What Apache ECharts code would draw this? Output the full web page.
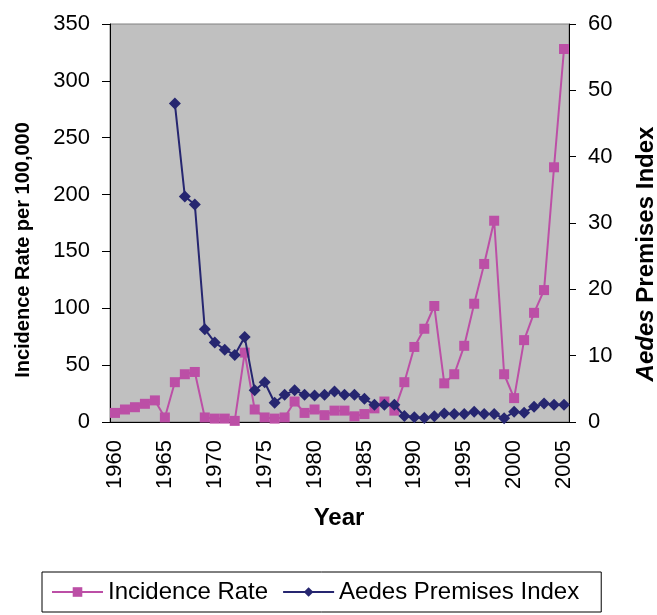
<!DOCTYPE html>
<html>
<head>
<meta charset="utf-8">
<script src="https://cdn.jsdelivr.net/npm/echarts@6/dist/echarts.min.js"></script>
<style>
  html, body { margin: 0; padding: 0; background: #ffffff; }
  #chart { width: 657px; height: 615px; }
</style>
</head>
<body>
<div id="chart"></div>
<script>
// Years on the category axis
const years = [];
for (let y = 1960; y <= 2005; y++) years.push(String(y));

// Dengue incidence rate per 100,000 population (left axis)
const incidenceRate = [
  8, 11, 13, 16, 19, 4, 35, 42, 44, 4,
  3, 3, 1, 61, 11, 4, 3, 4, 18, 8,
  11, 6, 10, 10, 5, 7, 12, 18, 10, 35,
  66, 82, 102, 34, 42, 67, 104, 139, 177, 42,
  21, 72, 96, 116, 224, 328
];

// Aedes premises index (right axis), surveyed from 1966
const premisesIndex = [
  null, null, null, null, null, null, 48, 34, 32.8, 14,
  12, 10.9, 10.1, 12.8, 4.8, 6, 2.9, 4.1, 4.8, 4.1,
  4.0, 4.1, 4.6, 4.1, 4.1, 3.5, 2.6, 2.6, 2.6, 0.9,
  0.7, 0.6, 0.85, 1.3, 1.2, 1.2, 1.55, 1.2, 1.2, 0.55,
  1.55, 1.4, 2.3, 2.8, 2.6, 2.6
];

const FONT = '"Liberation Sans", Arial, sans-serif';
const PINK = '#BC4FA6';
const NAVY = '#262670';

const chart = echarts.init(document.getElementById('chart'), null, { renderer: 'canvas' });

chart.setOption({
  backgroundColor: '#ffffff',
  animation: false,
  textStyle: { fontFamily: FONT, color: '#000' },
  grid: {
    left: 110, right: 88, top: 24, bottom: 193,
    show: true, backgroundColor: '#C0C0C0',
    borderColor: '#808080', borderWidth: 1
  },
  legend: {
    left: 42, top: 572,
    padding: [8, 22, 8, 9],
    itemGap: 14,
    itemWidth: 51, itemHeight: 12,
    borderColor: '#000', borderWidth: 1,
    backgroundColor: '#fff',
    textStyle: { fontFamily: FONT, fontSize: 24, color: '#000' },
    data: ['Incidence Rate', 'Aedes Premises Index']
  },
  xAxis: {
    type: 'category',
    data: years,
    boundaryGap: true,
    axisLine: { lineStyle: { color: '#000', width: 1 } },
    axisTick: { interval: 0, alignWithLabel: false, length: 8, lineStyle: { color: '#000' } },
    axisLabel: {
      interval: 4, rotate: 90, margin: 18,
      fontFamily: FONT, fontSize: 22, color: '#000'
    },
    splitLine: { show: false }
  },
  yAxis: [
    {
      type: 'value', min: 0, max: 350, interval: 50, position: 'left',
      axisLine: { show: true, lineStyle: { color: '#000', width: 1 } },
      axisTick: { show: true, length: 8, lineStyle: { color: '#000' } },
      axisLabel: { margin: 20, fontFamily: FONT, fontSize: 22, color: '#000' },
      splitLine: { show: false }
    },
    {
      type: 'value', min: 0, max: 60, interval: 10, position: 'right',
      axisLine: { show: true, lineStyle: { color: '#000', width: 1 } },
      axisTick: { show: true, length: 7, lineStyle: { color: '#000' } },
      axisLabel: { margin: 19, fontFamily: FONT, fontSize: 22, color: '#000' },
      splitLine: { show: false }
    }
  ],
  series: [
    {
      name: 'Incidence Rate',
      type: 'line',
      yAxisIndex: 0,
      data: incidenceRate,
      symbol: 'rect', symbolSize: 10,
      showAllSymbol: true,
      lineStyle: { color: PINK, width: 2 },
      itemStyle: { color: PINK },
      z: 2
    },
    {
      name: 'Aedes Premises Index',
      type: 'line',
      yAxisIndex: 1,
      data: premisesIndex,
      symbol: 'diamond', symbolSize: 12,
      showAllSymbol: true,
      lineStyle: { color: NAVY, width: 2 },
      itemStyle: { color: NAVY },
      z: 3
    }
  ],
  graphic: [
    {
      type: 'text', x: 23, y: 250, rotation: Math.PI / 2,
      style: {
        text: 'Incidence Rate per 100,000',
        font: 'bold 20px ' + FONT, fill: '#000',
        align: 'center', verticalAlign: 'middle'
      }
    },
    {
      type: 'text', x: 646, y: 254, rotation: Math.PI / 2,
      style: {
        text: '{i|Aedes} Premises Index',
        font: 'bold 24px ' + FONT, fill: '#000',
        align: 'center', verticalAlign: 'middle',
        rich: {
          i: { font: 'italic bold 24px ' + FONT, fill: '#000' }
        }
      }
    },
    {
      type: 'text', x: 339, y: 518,
      style: {
        text: 'Year',
        font: 'bold 24px ' + FONT, fill: '#000',
        align: 'center', verticalAlign: 'middle'
      }
    }
  ]
});
</script>
</body>
</html>
